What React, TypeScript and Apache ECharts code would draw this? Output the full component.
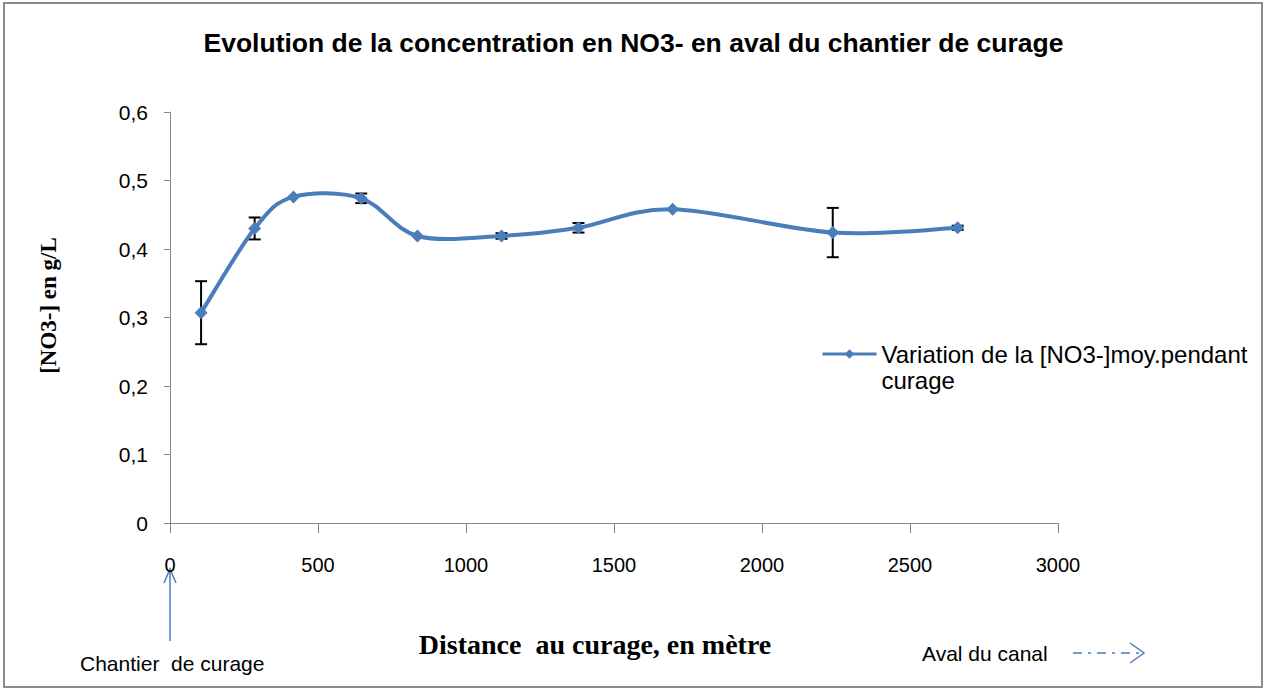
import React, { useEffect, useRef } from "react";
import * as echarts from "echarts";

const distances = [105, 286, 417, 646, 836, 1120, 1380, 1698, 2239, 2661];
const concentrations = [0.307, 0.43, 0.476, 0.474, 0.419, 0.419, 0.431, 0.458, 0.424, 0.431];
const errors = [0.046, 0.016, 0, 0.007, 0, 0.004, 0.007, 0, 0.036, 0.003];
const xTicks = { min: 0, max: 3000, interval: 500 };
const yTicks = { min: 0, max: 0.6, interval: 0.1 };
const seriesName = "Variation de la [NO3-]moy.pendant curage";

const BLUE = "#4a7ebb";
const SANS = "'Liberation Sans', Arial, sans-serif";
const SERIF = "'Liberation Serif', 'DejaVu Serif', serif";

export default function App() {
  const ref = useRef<HTMLDivElement>(null);
  useEffect(() => {
    const chart = echarts.init(ref.current!, null, { renderer: "svg" });
    const lineData = distances.map((d, i) => [d, concentrations[i]]);
    const errData = distances
      .map((d, i) => [d, concentrations[i] - errors[i], concentrations[i] + errors[i]])
      .filter((_, i) => errors[i] > 0);
    chart.setOption({
      animation: false,
      backgroundColor: "#ffffff",
      title: {
        text: "Evolution de la concentration en NO3- en aval du chantier de curage",
        left: "center",
        top: 24,
        padding: [5, 5, 5, 18],
        textStyle: { fontFamily: SANS, fontWeight: "bold", fontSize: 26.5, color: "#000" },
      },
      legend: {
        left: 816,
        top: 310,
        itemWidth: 54,
        itemHeight: 12,
        itemGap: 6,
        data: [seriesName],
        formatter: () => " \nVariation de la [NO3-]moy.pendant\ncurage",
        lineStyle: { color: BLUE, width: 3, opacity: 1 },
        textStyle: { fontFamily: SANS, fontSize: 24, color: "#000", lineHeight: 26 },
      },
      grid: { left: 170, top: 112, width: 888, height: 411, containLabel: false },
      xAxis: {
        type: "value",
        min: xTicks.min,
        max: xTicks.max,
        interval: xTicks.interval,
        name: "Distance  au curage, en mètre",
        nameLocation: "middle",
        nameGap: 107,
        nameTextStyle: { fontFamily: SERIF, fontWeight: "bold", fontSize: 28, color: "#000", padding: [0, 38, 0, 0] },
        axisLine: { lineStyle: { color: "#868686", width: 1 } },
        axisTick: { show: true, inside: false, length: 10, lineStyle: { color: "#868686" } },
        axisLabel: { margin: 32, fontFamily: SANS, fontSize: 20, color: "#000", formatter: (v: number) => String(v) },
        splitLine: { show: false },
      },
      yAxis: {
        type: "value",
        min: yTicks.min,
        max: yTicks.max,
        interval: yTicks.interval,
        name: "[NO3-] en g/L",
        nameLocation: "middle",
        nameGap: 110,
        nameRotate: 90,
        nameTextStyle: { fontFamily: SERIF, fontWeight: "bold", fontSize: 23, color: "#000", padding: [0, 0, 0, 24] },
        axisLine: { show: true, lineStyle: { color: "#868686", width: 1 } },
        axisTick: { show: true, inside: false, length: 6, lineStyle: { color: "#868686" } },
        axisLabel: {
          margin: 22,
          fontFamily: SANS,
          fontSize: 21,
          color: "#000",
          formatter: (v: number) => String(Math.round(v * 10) / 10).replace(".", ","),
        },
        splitLine: { show: false },
      },
      series: [
        {
          type: "custom",
          name: "erreur",
          z: 1,
          data: errData,
          encode: { x: 0, y: [1, 2] },
          renderItem: (params: any, api: any) => {
            const x = api.value(0);
            const lo = api.coord([x, api.value(1)]);
            const hi = api.coord([x, api.value(2)]);
            const cap = 6;
            const style = { stroke: "#000", lineWidth: 2 };
            return {
              type: "group",
              children: [
                { type: "line", shape: { x1: lo[0], y1: lo[1], x2: hi[0], y2: hi[1] }, style },
                { type: "line", shape: { x1: lo[0] - cap, y1: lo[1], x2: lo[0] + cap, y2: lo[1] }, style },
                { type: "line", shape: { x1: hi[0] - cap, y1: hi[1], x2: hi[0] + cap, y2: hi[1] }, style },
              ],
            };
          },
        },
        {
          type: "custom",
          name: "courbe",
          z: 2,
          data: [lineData[0]],
          encode: { x: 0, y: 1 },
          renderItem: (params: any, api: any) => {
            const pts = lineData.map((p) => api.coord(p));
            const n = pts.length;
            const children: any[] = [];
            for (let i = 0; i < n - 1; i++) {
              const p0 = pts[Math.max(i - 1, 0)];
              const p1 = pts[i];
              const p2 = pts[i + 1];
              const p3 = pts[Math.min(i + 2, n - 1)];
              children.push({
                type: "bezierCurve",
                shape: {
                  x1: p1[0],
                  y1: p1[1],
                  x2: p2[0],
                  y2: p2[1],
                  cpx1: p1[0] + (p2[0] - p0[0]) / 6,
                  cpy1: p1[1] + (p2[1] - p0[1]) / 6,
                  cpx2: p2[0] - (p3[0] - p1[0]) / 6,
                  cpy2: p2[1] - (p3[1] - p1[1]) / 6,
                },
                style: { stroke: BLUE, lineWidth: 4, fill: "none", lineCap: "round" },
              });
            }
            return { type: "group", children };
          },
        },
        {
          type: "line",
          name: seriesName,
          z: 3,
          data: lineData,
          symbol: "diamond",
          symbolSize: 13,
          lineStyle: { color: BLUE, width: 4, opacity: 0 },
          itemStyle: { color: BLUE },
        },
      ],
      graphic: [
        {
          type: "rect",
          shape: { x: 4, y: 3, width: 1258, height: 684 },
          style: { fill: "none", stroke: "#8c8c8c", lineWidth: 2 },
          silent: true,
        },
        {
          type: "line",
          shape: { x1: 170, y1: 641, x2: 170, y2: 569 },
          style: { stroke: BLUE, lineWidth: 1.5 },
        },
        {
          type: "polyline",
          shape: { points: [[164, 583], [170, 569], [176, 583]] },
          style: { stroke: BLUE, lineWidth: 1.5, fill: "none" },
        },
        {
          type: "text",
          x: 80,
          y: 663,
          style: { text: "Chantier  de curage", fontFamily: SANS, fontSize: 21, fill: "#000", verticalAlign: "middle" },
        },
        {
          type: "text",
          x: 922,
          y: 653,
          style: { text: "Aval du canal", fontFamily: SANS, fontSize: 21, fill: "#000", verticalAlign: "middle" },
        },
        {
          type: "line",
          shape: { x1: 1073, y1: 653, x2: 1142, y2: 653 },
          style: { stroke: BLUE, lineWidth: 1.5, lineDash: [9, 6, 3, 6] },
        },
        {
          type: "polyline",
          shape: { points: [[1130, 643], [1144, 653], [1130, 663]] },
          style: { stroke: BLUE, lineWidth: 1.5, fill: "none" },
        },
      ],
    });
    return () => chart.dispose();
  }, []);
  return (
    <div
      ref={ref}
      style={{ position: "fixed", left: 0, top: 0, width: 1267, height: 691, background: "#fff" }}
    />
  );
}
